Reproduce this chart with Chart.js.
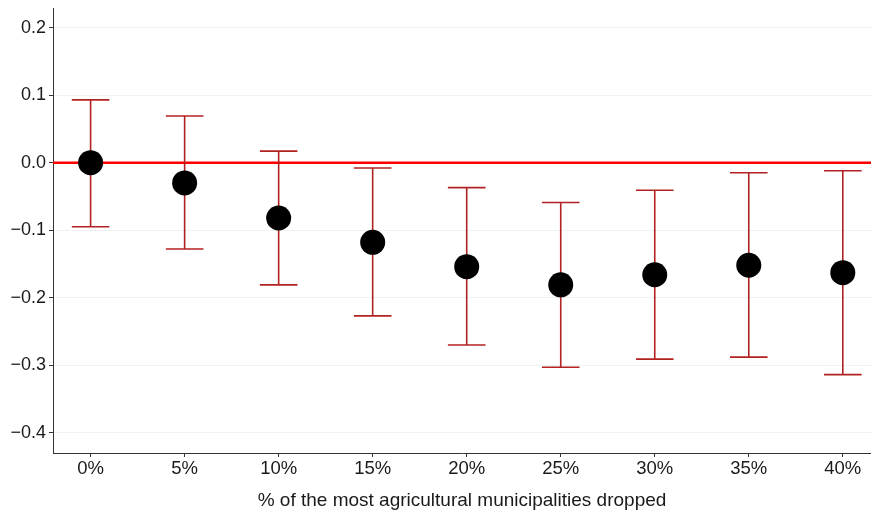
<!DOCTYPE html>
<html>
<head>
<meta charset="utf-8">
<script src="https://cdn.jsdelivr.net/npm/chart.js@4/dist/chart.umd.min.js"></script>
<style>
  html, body { margin: 0; padding: 0; background: #ffffff; }
  #wrap { width: 871px; height: 512px; position: relative; }
</style>
</head>
<body>
<div id="wrap"><canvas id="c" width="871" height="512"></canvas></div>
<script>
// ---- Data ----
const categories = ["0%", "5%", "10%", "15%", "20%", "25%", "30%", "35%", "40%"];
const estimates  = [0.000, -0.030, -0.082, -0.118, -0.154, -0.181, -0.166, -0.152, -0.163];
const upperCI    = [0.093, 0.069, 0.017, -0.008, -0.037, -0.059, -0.041, -0.015, -0.012];
const lowerCI    = [-0.095, -0.128, -0.181, -0.227, -0.270, -0.303, -0.291, -0.288, -0.314];
const yTicks     = [-0.4, -0.3, -0.2, -0.1, 0.0, 0.1, 0.2];
const referenceValue = 0;
const xTitle = "% of the most agricultural municipalities dropped";

const FONT = "'Liberation Sans', Arial, Helvetica, sans-serif";

const errorBarPlugin = {
  id: 'errorBars',
  beforeDatasetsDraw(chart) {
    const {ctx, scales: {x, y}, chartArea} = chart;
    ctx.save();
    // reference line at zero
    const y0 = y.getPixelForValue(referenceValue);
    ctx.strokeStyle = '#FF0000';
    ctx.lineWidth = 2.5;
    ctx.beginPath();
    ctx.moveTo(chartArea.left, y0);
    ctx.lineTo(chartArea.right, y0);
    ctx.stroke();
    // error bars
    ctx.strokeStyle = '#B22222';
    ctx.lineWidth = 1.6;
    const capHalf = (x.getPixelForValue(1) - x.getPixelForValue(0)) * 0.2;
    for (let i = 0; i < categories.length; i++) {
      const px = x.getPixelForValue(i);
      const pu = y.getPixelForValue(upperCI[i]);
      const pl = y.getPixelForValue(lowerCI[i]);
      ctx.beginPath();
      ctx.moveTo(px, pu); ctx.lineTo(px, pl);
      ctx.moveTo(px - capHalf, pu); ctx.lineTo(px + capHalf, pu);
      ctx.moveTo(px - capHalf, pl); ctx.lineTo(px + capHalf, pl);
      ctx.stroke();
    }
    ctx.restore();
  }
};

const fmt = v => {
  const s = Math.abs(v) < 1e-9 ? '0.0' : Math.abs(v).toFixed(1);
  return v < -1e-9 ? '\u2212' + s : s;
};

new Chart(document.getElementById('c'), {
  type: 'scatter',
  data: {
    datasets: [{
      data: estimates.map((v, i) => ({x: i, y: v})),
      backgroundColor: '#000000',
      borderColor: '#000000',
      pointRadius: 12.5,
      pointHoverRadius: 12.5,
      borderWidth: 0,
      clip: false
    }]
  },
  plugins: [errorBarPlugin],
  options: {
    responsive: false,
    animation: false,
    devicePixelRatio: 1,
    layout: { autoPadding: false, padding: { top: 8, right: 0, left: 0, bottom: 0 } },
    plugins: { legend: { display: false }, tooltip: { enabled: false } },
    scales: {
      x: {
        type: 'linear',
        min: -0.4,
        max: 8.3,
        afterBuildTicks(axis) { axis.ticks = categories.map((c, i) => ({value: i})); },
        afterFit(axis) { axis.height = 59; axis.paddingLeft = 0; axis.paddingRight = 0; },
        ticks: {
          callback: (v) => categories[v] ?? '',
          color: '#1a1a1a',
          font: { family: FONT, size: 18.5 },
          padding: 1,
          maxRotation: 0,
          autoSkip: false
        },
        grid: { drawOnChartArea: false, drawTicks: true, tickLength: 4, tickColor: '#333333' },
        border: { display: true, color: '#333333', width: 1 },
        title: {
          display: true,
          text: xTitle,
          color: '#1a1a1a',
          font: { family: FONT, size: 19 },
          padding: { top: 6, bottom: 0 }
        }
      },
      y: {
        min: -0.43,
        max: 0.229,
        afterBuildTicks(axis) { axis.ticks = yTicks.map(v => ({value: v})); },
        afterFit(axis) { axis.width = 53; axis.paddingTop = 0; axis.paddingBottom = 0; },
        ticks: {
          callback: (v) => fmt(v),
          color: '#1a1a1a',
          font: { family: FONT, size: 18 },
          padding: 3
        },
        grid: { color: '#EEF2F2', lineWidth: 1, drawTicks: true, tickLength: 4, tickColor: '#333333' },
        border: { display: true, color: '#333333', width: 1 }
      }
    }
  }
});
</script>
</body>
</html>
